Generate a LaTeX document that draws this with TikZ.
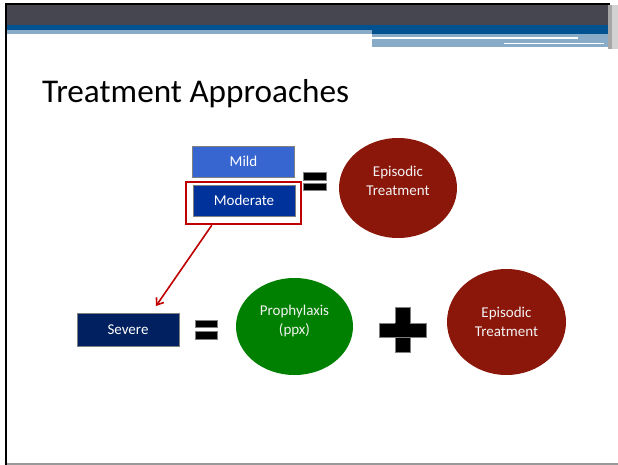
\documentclass[tikz,border=0pt]{standalone}
\usepackage{fontspec}
\setmainfont{Carlito}
\usetikzlibrary{shapes.geometric, arrows.meta}
\definecolor{hdrdark}{RGB}{70,70,80}
\definecolor{hdrblue}{RGB}{0,82,145}
\definecolor{hdrlight}{RGB}{136,172,200}
\definecolor{mildblue}{RGB}{56,102,208}
\definecolor{modblue}{RGB}{0,50,155}
\definecolor{sevblue}{RGB}{0,32,96}
\definecolor{epired}{RGB}{139,22,10}
\definecolor{ppxgreen}{RGB}{0,128,0}
\definecolor{hilite}{RGB}{192,0,0}
\tikzset{every picture/.style = {x=1pt, y=-1pt}}
\tikzset{box/.style = {draw=gray, line width=0.7pt, text=white,
    minimum width=102, minimum height=31, inner sep=0,
    font=\fontsize{15}{18}\selectfont}}
\tikzset{blob/.style = {ellipse, inner sep=0, minimum width=118,
    minimum height=100}}
\tikzset{say/.style = {text=white!95!black, align=center,
    font=\fontsize{15}{18.5}\selectfont}}
\tikzset{bar/.style = {fill=black, draw=gray, line width=0.6pt}}

\begin{document}
\begin{tikzpicture}
  \useasboundingbox (0, 0) rectangle (618, 465);
  % slide frame and header
  \fill[white] (0, 0) rectangle (618, 465);
  \fill[hdrdark] (7, 5) rectangle (608, 25);
  \fill[hdrblue] (7, 25) rectangle (608, 30);
  \fill[hdrlight] (7, 30) rectangle (372, 34);
  \fill[hdrblue] (372, 30) rectangle (608, 34);
  \fill[hdrlight] (372, 34) rectangle (608, 47);
  \fill[white] (372, 37.5) rectangle (578, 38.7);
  \fill[white] (504, 43) rectangle (604, 44.2);
  \fill[gray!70] (608, 5) rectangle (612, 49);
  \fill[gray!35] (612, 5) rectangle (618, 49);
  \fill[black] (5, 3) rectangle (610, 5);
  \fill[black] (5, 3) rectangle (7, 465);
  \fill[gray!80] (7, 463) rectangle (618, 465);
  \node[anchor=base west, inner sep=0, font=\fontsize{33.2}{38}\selectfont]
    (title) at (42, 103) {Treatment Approaches};

  % top row
  \node[box, fill=mildblue] (mild) at (243.5, 161.5) {Mild};
  \node[box, fill=modblue] (mod) at (244, 200.5) {Moderate};
  \node[draw=hilite, line width=2.4pt, minimum width=115,
    minimum height=42, inner sep=0] (modframe) at (243.5, 203) {};
  \fill[bar] (303, 172) rectangle (326, 180);
  \fill[bar] (303, 183) rectangle (326, 190);
  \node[blob, fill=epired] (epi1) at (398, 188) {};
  \node[say] (epi1txt) at (398, 181) {Episodic\\Treatment};

  % bottom row
  \node[box, fill=sevblue, minimum height=33] (sev) at (128, 329.5) {Severe};
  \coordinate (sevtip) at (156, 306);
  \draw[hilite, line width=1.6pt, -{Straight Barb[length=6pt, width=9pt]}]
    (modframe.south west) ++(27, 0) -- (sevtip);
  \fill[bar] (195, 320) rectangle (217, 327);
  \fill[bar] (195, 331) rectangle (217, 339);
  \node[blob, fill=ppxgreen, minimum width=117, minimum height=97]
    (ppx) at (294.5, 326.5) {};
  \node[say] (ppxtxt) at (294.5, 321) {Prophylaxis\\(ppx)};
  \fill[bar] (395, 307) rectangle (410, 352);
  \fill[bar] (379, 323) rectangle (426, 337);
  \fill[black] (395.4, 323.4) rectangle (409.6, 336.6);
  \node[blob, fill=epired, minimum width=119, minimum height=106]
    (epi2) at (506.5, 322) {};
  \node[say] (epi2txt) at (506.5, 322) {Episodic\\Treatment};
\end{tikzpicture}
\end{document}
